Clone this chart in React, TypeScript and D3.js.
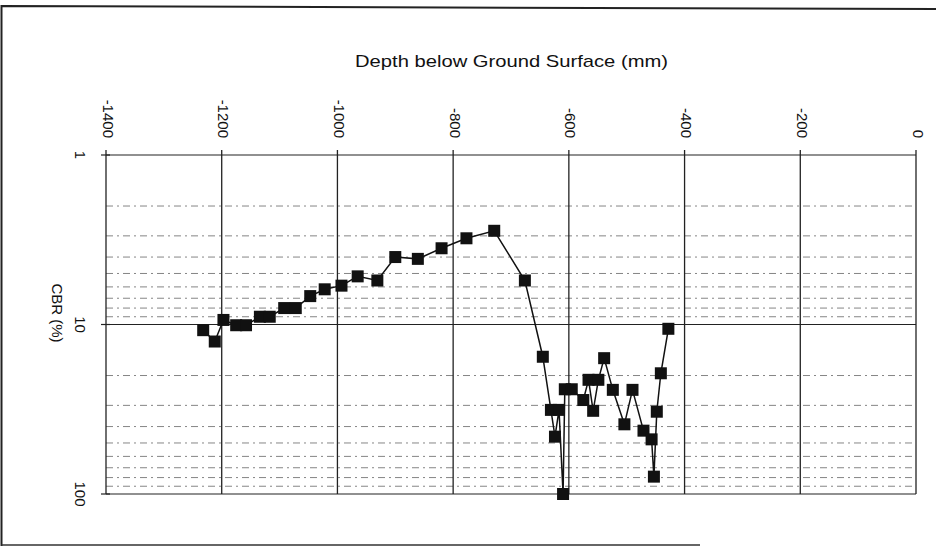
import React from "react";
import * as d3 from "d3";

const depth = [-1232, -1212, -1197, -1175, -1158, -1134, -1117, -1092, -1072, -1047, -1022, -993, -965, -931, -900, -861, -820, -777, -729, -676, -645, -631, -624, -617, -610, -607, -595, -575, -566, -558, -549, -539, -524, -504, -490, -471, -457, -453, -448, -441, -428];
const cbr = [10.8, 12.6, 9.4, 10.1, 10.1, 9.0, 9.0, 8.0, 8.0, 6.8, 6.2, 5.9, 5.2, 5.5, 4.0, 4.1, 3.55, 3.1, 2.8, 5.5, 15.5, 31.9, 45.9, 31.9, 100, 24.1, 24.1, 27.9, 21.2, 32.3, 21.2, 15.8, 24.3, 38.8, 24.3, 42.3, 47.6, 79, 32.7, 19.4, 10.6];
const xTicks = [-1400, -1200, -1000, -800, -600, -400, -200, 0];
const yTicks = [1, 10, 100];
const yMinor = [2, 3, 4, 5, 6, 7, 8, 9, 20, 30, 40, 50, 60, 70, 80, 90];

export default function App() {
  const W = 937, H = 548;
  const x = d3.scaleLinear().domain([-1400, 0]).range([106, 916]);
  const y = d3.scaleLog().domain([1, 100]).range([155, 494]);
  const pts = depth.map((d, i) => [x(d), y(cbr[i])] as [number, number]);
  const line = d3.line()(pts) || "";
  const ms = 12;
  return (
    <svg width={W} height={H} style={{ position: "absolute", left: 0, top: 0, background: "#fff" }} fontFamily="Arial, 'Liberation Sans', sans-serif">
      <rect x={0} y={0} width={W} height={H} fill="#fff" />
      {/* outer frame */}
      <path d="M1.5,546 L1.5,6 L936,9" fill="none" stroke="#222" strokeWidth={2} />
      <line x1={1.5} x2={700} y1={545} y2={545} stroke="#333" strokeWidth={1.5} />
      {/* title */}
      <text x={511.5} y={67} textAnchor="middle" fontSize={17} textLength={313} lengthAdjust="spacingAndGlyphs" fill="#111">Depth below Ground Surface (mm)</text>
      {/* minor gridlines */}
      {yMinor.map((v) => (
        <line key={"m" + v} x1={106} x2={916} y1={y(v)} y2={y(v)} stroke="#666" strokeWidth={0.8} strokeDasharray="7,4,2,4" />
      ))}
      {/* major horizontal */}
      {yTicks.map((v) => (
        <line key={"h" + v} x1={106} x2={916} y1={y(v)} y2={y(v)} stroke="#222" strokeWidth={1.2} />
      ))}
      {/* vertical gridlines */}
      {xTicks.map((v) => (
        <line key={"v" + v} x1={x(v)} x2={x(v)} y1={150} y2={494} stroke="#222" strokeWidth={1.3} />
      ))}
      {/* left ticks */}
      {yTicks.map((v) => (
        <line key={"lt" + v} x1={101} x2={110} y1={y(v)} y2={y(v)} stroke="#222" strokeWidth={1.2} />
      ))}
      {/* x tick labels */}
      {xTicks.map((v) => (
        <text key={"xl" + v} transform={`translate(${x(v) + 2},138) rotate(90)`} textAnchor="end" dominantBaseline="central" fontSize={15} fill="#111">{v}</text>
      ))}
      {/* y tick labels */}
      {yTicks.map((v) => (
        <text key={"yl" + v} transform={`translate(80,${y(v)}) rotate(90)`} textAnchor="middle" dominantBaseline="central" fontSize={15} fill="#111">{v}</text>
      ))}
      <text transform="translate(57,313) rotate(90)" textAnchor="middle" dominantBaseline="central" fontSize={15} fill="#111">CBR (%)</text>
      {/* data line */}
      <path d={line} fill="none" stroke="#111" strokeWidth={1.5} />
      {pts.map((p, i) => (
        <rect key={"p" + i} x={p[0] - ms / 2} y={p[1] - ms / 2} width={ms} height={ms} fill="#111" />
      ))}
    </svg>
  );
}
